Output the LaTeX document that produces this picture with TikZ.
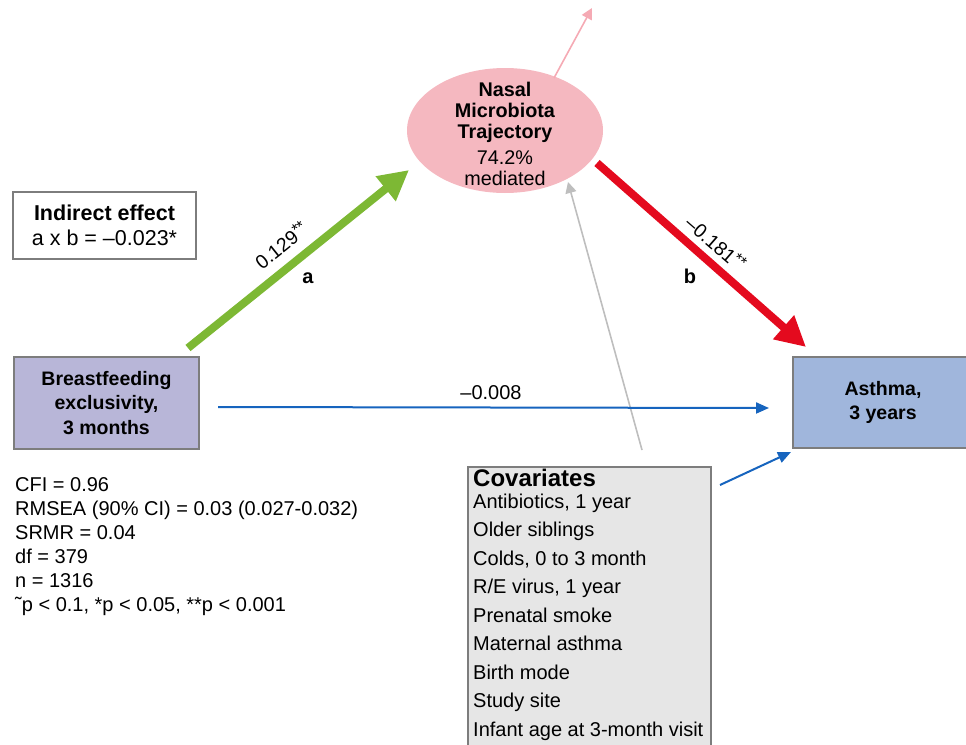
\documentclass[tikz,border=0pt]{standalone}
\usepackage{fontspec}
\setmainfont{Liberation Sans}
\usetikzlibrary{arrows.meta,shapes.geometric}
\definecolor{greenar}{RGB}{125,184,52}
\definecolor{redar}{RGB}{228,10,30}
\definecolor{pinkfill}{RGB}{245,184,192}
\definecolor{pinkar}{RGB}{245,170,180}
\definecolor{lavfill}{RGB}{184,182,216}
\definecolor{bluefill}{RGB}{160,182,220}
\definecolor{bluear}{RGB}{22,100,190}
\definecolor{grayar}{RGB}{190,190,190}
\definecolor{bordergray}{RGB}{125,125,125}
\definecolor{covfill}{RGB}{230,230,230}
\newcommand{\twostars}{{\fontsize{16}{16}\selectfont\raisebox{5pt}{**}}}
\tikzset{
  x=1pt, y=-1pt,
  boxnode/.style={draw=bordergray, line width=2pt, inner sep=0pt, align=center},
  fsmain/.style={font=\fontsize{19.5}{24.5}\selectfont},
  fsreg/.style={font=\fontsize{20}{24}\selectfont},
  fatarrow/.style={line width=8pt, -{Triangle[length=30pt,width=30pt]}},
  thinarrow/.style={line width=1.6pt, -{Triangle[length=11pt,width=11pt]}},
  bluearrow/.style={draw=bluear, line width=2pt, -{Triangle[length=13pt,width=11pt]}},
}
\begin{document}
\begin{tikzpicture}
\useasboundingbox (0,0) rectangle (966,744);
% nodes
\node[ellipse, fill=pinkfill, minimum width=196pt, minimum height=125pt, inner sep=0pt] (nasal) at (505,130.5) {};
\node[align=center, inner sep=0pt, font=\fontsize{19.8}{20.6}\selectfont] (nasaltext) at (505,134)
  {\textbf{Nasal}\\\textbf{Microbiota}\\\textbf{Trajectory}\\[6pt]74.2\%\\mediated};
\node[boxnode, fill=lavfill, minimum width=185pt, minimum height=92pt, fsmain] (bf) at (106.5,403)
  {\textbf{Breastfeeding}\\\textbf{exclusivity,}\\\textbf{3 months}};
\node[boxnode, fill=bluefill, minimum width=180pt, minimum height=91pt, fsmain] (asthma) at (883,402.5)
  {\textbf{Asthma,}\\\textbf{3 years}};
\node[boxnode, fill=white, minimum width=183pt, minimum height=67pt,
      font=\fontsize{21.5}{25}\selectfont] (ind) at (104.5,225.5)
  {\textbf{Indirect effect}\\a x b = –0.023*};
\node[boxnode, fill=covfill, minimum width=243pt, minimum height=300pt, anchor=north west] (cov) at (467,466) {};
\node[anchor=north west, inner sep=0pt, align=left, font=\fontsize{20}{28.5}\selectfont] (covtext) at (473,469)
  {{\fontsize{24}{24}\selectfont\textbf{Covariates}}\\[-7pt]
   Antibiotics, 1 year\\Older siblings\\Colds, 0 to 3 month\\R/E virus, 1 year\\
   Prenatal smoke\\Maternal asthma\\Birth mode\\Study site\\Infant age at 3-month visit};
\node[anchor=north west, inner sep=0pt, align=left, font=\fontsize{20}{24}\selectfont] (fit) at (15,477)
  {CFI = 0.96\\RMSEA (90\% CI) = 0.03 (0.027-0.032)\\SRMR = 0.04\\df = 379\\n = 1316\\
   ˜p < 0.1, *p < 0.05, **p < 0.001};
% coordinates
\coordinate (gs) at (188,348);
\coordinate (ge) at (409,170);
\coordinate (rs) at (597,163);
\coordinate (re) at (806,347);
\coordinate (ps) at (554,78);
\coordinate (pe) at (592,8);
\coordinate (grs) at (642,450);
\coordinate (gre) at (568,182);
\coordinate (bs) at (218,407);
\coordinate (be) at (769,408);
\coordinate (b2s) at (720,485);
\coordinate (b2e) at (791,452);
% connectors
\draw[fatarrow, draw=greenar, fill=greenar] (gs) -- (ge);
\draw[fatarrow, draw=redar, fill=redar] (rs) -- (re);
\draw[thinarrow, draw=pinkar, fill=pinkar] (ps) -- (pe);
\draw[thinarrow, draw=grayar, fill=grayar] (grs) -- (gre);
\draw[bluearrow, fill=bluear] (bs) -- (be);
\draw[bluearrow, fill=bluear] (b2s) -- (b2e);
% labels
\node[fsreg, inner sep=0pt] (l008) at (491,393) {–0.008};
\node[font=\fontsize{19.5}{19.5}\selectfont, inner sep=0pt, rotate=38.7] (la) at (281,245) {0.129\twostars};
\node[font=\fontsize{20}{20}\selectfont\bfseries, inner sep=0pt] (aa) at (308,278) {a};
\node[font=\fontsize{19.5}{19.5}\selectfont, inner sep=0pt, rotate=-41] (lb) at (716,243) {–0.181\twostars};
\node[font=\fontsize{20}{20}\selectfont\bfseries, inner sep=0pt] (bb) at (690,276) {b};
\end{tikzpicture}
\end{document}
